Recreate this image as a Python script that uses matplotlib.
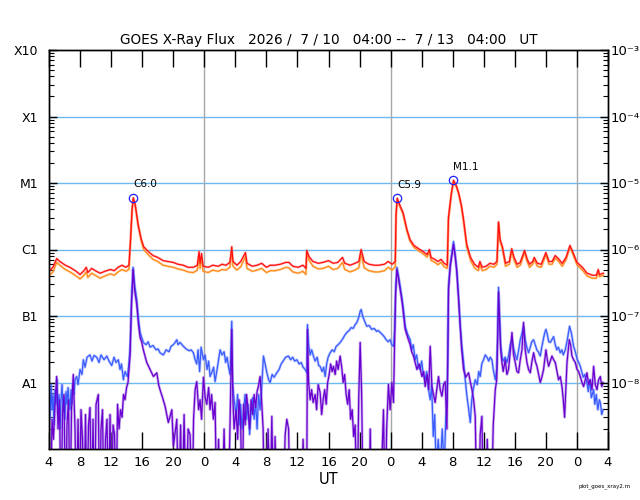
import numpy as np
import matplotlib
matplotlib.use("Agg")
import matplotlib.pyplot as plt
from matplotlib.ticker import FixedLocator, NullFormatter

plt.rcParams['font.family'] = ['DejaVu Sans']

# ---------------- data (hours since 2026/7/10 04:00 UT, flux W/m^2) ----------------
title = "GOES X-Ray Flux   2026 /  7 / 10   04:00 --  7 / 13   04:00   UT"
start_hour = 4
span_hours = 72
day_boundaries = [20, 44, 68]
class_labels = ["A1", "B1", "C1", "M1", "X1", "X10"]
class_levels = [1e-8, 1e-7, 1e-6, 1e-5, 1e-4, 1e-3]
right_labels = ["10⁻⁸", "10⁻⁷", "10⁻⁶", "10⁻⁵", "10⁻⁴", "10⁻³"]
flare_labels = ["C6.0", "C5.9", "M1.1"]
flare_hours = [10.86, 44.85, 52.1]

red_hours = [0.0, 0.5, 1.0, 1.4, 2.1, 2.7, 3.5, 4.0, 4.5, 4.8,
             5.0, 5.5, 6.1, 6.6, 7.2, 7.9, 8.4, 8.9, 9.4, 9.9,
             10.3, 10.5, 10.7, 10.86, 11.1, 11.5, 11.9, 12.2, 12.8, 13.4,
             14.0, 14.7, 15.3, 16.0, 16.6, 17.3, 17.9, 18.6, 19.1, 19.33,
             19.46, 19.65, 19.85, 20.5, 21.1, 21.8, 22.3, 22.8, 23.3, 23.54,
             23.7, 24.2, 24.7, 25.3, 25.5, 26.2, 26.8, 27.4, 28.0, 28.5,
             29.1, 29.8, 30.5, 30.9, 31.4, 32.1, 32.7, 33.1, 33.2, 33.5,
             34.0, 34.7, 35.3, 36.0, 36.6, 37.2, 37.8, 38.1, 38.8, 39.4,
             39.9, 40.2, 40.6, 41.2, 41.9, 42.5, 43.2, 43.7, 44.2, 44.6,
             44.7, 44.85, 45.2, 45.6, 46.1, 46.5, 47.0, 47.6, 48.2, 48.7,
             49.0, 49.2, 49.7, 50.1, 50.5, 50.9, 51.3, 51.45, 51.8, 52.1,
             52.45, 52.75, 53.1, 53.4, 53.8, 54.3, 54.8, 55.3, 55.5, 55.8,
             56.3, 56.8, 57.3, 57.7, 57.9, 58.1, 58.4, 58.8, 59.3, 59.6,
             59.9, 60.3, 60.7, 61.25, 61.6, 61.9, 62.3, 62.5, 62.9, 63.4,
             64.0, 64.4, 64.8, 65.2, 65.6, 66.1, 66.6, 67.1, 67.5, 68.0,
             68.7, 69.3, 70.0, 70.5, 70.75, 70.9, 71.4]

red_flux = [4.7e-7, 5.4e-7, 7.3e-7, 6.6e-7, 5.8e-7, 5.4e-7, 4.7e-7, 4.2e-7, 4.8e-7, 5.4e-7,
            4.5e-7, 5.2e-7, 4.7e-7, 4.4e-7, 4.7e-7, 5.0e-7, 4.8e-7, 5.4e-7, 5.8e-7, 5.4e-7,
            5.8e-7, 1.41e-6, 4.0e-6, 6.0e-6, 4.75e-6, 2.3e-6, 1.41e-6, 1.1e-6, 9.3e-7, 8.1e-7,
            7.6e-7, 6.8e-7, 6.6e-7, 6.4e-7, 6.0e-7, 5.8e-7, 5.4e-7, 5.4e-7, 5.8e-7, 9.3e-7,
            6.2e-7, 8.7e-7, 5.6e-7, 5.4e-7, 5.8e-7, 5.6e-7, 6.0e-7, 5.8e-7, 6.4e-7, 1.1e-6,
            6.6e-7, 5.8e-7, 6.6e-7, 9.0e-7, 6.2e-7, 5.6e-7, 5.8e-7, 6.2e-7, 5.4e-7, 5.8e-7,
            5.8e-7, 6.0e-7, 6.4e-7, 6.4e-7, 5.6e-7, 5.4e-7, 5.8e-7, 5.2e-7, 9.7e-7, 7.8e-7,
            6.6e-7, 6.2e-7, 6.4e-7, 6.8e-7, 6.2e-7, 6.4e-7, 7.6e-7, 6.2e-7, 5.8e-7, 6.2e-7,
            6.6e-7, 1.0e-6, 6.6e-7, 6.0e-7, 5.8e-7, 5.8e-7, 6.0e-7, 6.6e-7, 6.0e-7, 6.6e-7,
            3.4e-6, 5.9e-6, 4.6e-6, 3.6e-6, 2.0e-6, 1.41e-6, 1.15e-6, 1.03e-6, 9.3e-7, 8.4e-7,
            1.0e-6, 7.6e-7, 7.1e-7, 6.6e-7, 7.1e-7, 6.2e-7, 5.8e-7, 3.0e-6, 6.7e-6, 1.1e-5,
            9.2e-6, 7.2e-6, 4.75e-6, 2.8e-6, 1.2e-6, 7.6e-7, 6.0e-7, 5.4e-7, 6.6e-7, 5.4e-7,
            5.6e-7, 6.2e-7, 6.0e-7, 6.6e-7, 2.6e-6, 1.41e-6, 1.1e-6, 6.2e-7, 6.6e-7, 1.03e-6,
            7.6e-7, 6.0e-7, 6.4e-7, 9.7e-7, 7.1e-7, 6.0e-7, 6.6e-7, 7.6e-7, 6.2e-7, 6.0e-7,
            9.0e-7, 6.6e-7, 6.6e-7, 8.1e-7, 7.3e-7, 6.2e-7, 7.6e-7, 1.15e-6, 9.0e-7, 6.4e-7,
            5.4e-7, 4.4e-7, 4.1e-7, 4.1e-7, 5.0e-7, 4.2e-7, 4.4e-7]

orange_flux = [4.0e-7, 4.6e-7, 6.4e-7, 5.8e-7, 5.0e-7, 4.6e-7, 4.0e-7, 3.6e-7, 4.1e-7, 4.6e-7,
               3.8e-7, 4.4e-7, 4.0e-7, 3.7e-7, 4.0e-7, 4.3e-7, 4.1e-7, 4.6e-7, 5.0e-7, 4.7e-7,
               5.0e-7, 1.3e-6, 3.8e-6, 5.8e-6, 4.6e-6, 2.2e-6, 1.3e-6, 1.0e-6, 8.3e-7, 7.1e-7,
               6.6e-7, 5.8e-7, 5.6e-7, 5.4e-7, 5.1e-7, 4.9e-7, 4.6e-7, 4.5e-7, 4.9e-7, 7.8e-7,
               5.2e-7, 7.4e-7, 4.7e-7, 4.5e-7, 4.9e-7, 4.7e-7, 5.0e-7, 4.9e-7, 5.4e-7, 9.5e-7,
               5.6e-7, 4.9e-7, 5.5e-7, 7.8e-7, 5.2e-7, 4.7e-7, 4.9e-7, 5.2e-7, 4.5e-7, 4.8e-7,
               4.8e-7, 5.0e-7, 5.4e-7, 5.3e-7, 4.6e-7, 4.4e-7, 4.7e-7, 4.2e-7, 8.8e-7, 6.9e-7,
               5.6e-7, 5.1e-7, 5.2e-7, 5.6e-7, 5.0e-7, 5.2e-7, 6.4e-7, 5.0e-7, 4.6e-7, 4.9e-7,
               5.3e-7, 8.6e-7, 5.3e-7, 4.8e-7, 4.6e-7, 4.6e-7, 4.8e-7, 5.4e-7, 4.9e-7, 5.5e-7,
               3.1e-6, 5.6e-6, 4.4e-6, 3.4e-6, 1.9e-6, 1.33e-6, 1.08e-6, 9.6e-7, 8.6e-7, 7.7e-7,
               9.2e-7, 6.9e-7, 6.4e-7, 5.9e-7, 6.4e-7, 5.5e-7, 5.2e-7, 2.8e-6, 6.4e-6, 1.05e-5,
               8.9e-6, 6.9e-6, 4.5e-6, 2.6e-6, 1.1e-6, 6.8e-7, 5.3e-7, 4.8e-7, 5.9e-7, 4.8e-7,
               5.0e-7, 5.6e-7, 5.4e-7, 6.0e-7, 2.5e-6, 1.33e-6, 1.02e-6, 5.6e-7, 6.0e-7, 9.5e-7,
               6.9e-7, 5.4e-7, 5.8e-7, 9.0e-7, 6.5e-7, 5.4e-7, 6.0e-7, 7.0e-7, 5.6e-7, 5.4e-7,
               8.3e-7, 6.0e-7, 6.0e-7, 7.4e-7, 6.7e-7, 5.6e-7, 7.0e-7, 1.08e-6, 8.4e-7, 5.9e-7,
               4.9e-7, 4.0e-7, 3.7e-7, 3.7e-7, 4.6e-7, 3.9e-7, 4.1e-7]

blue_series = [
    (0.00, 5.5e-9), (0.13, 2.8e-9), (0.26, 9.3e-9), (0.39, 3.9e-9), (0.52, 6.6e-9),
    (0.64, 2.3e-9), (0.77, 7.8e-9), (0.90, 4.7e-9), (1.03, 1.1e-8), (1.16, 3.3e-9),
    (1.29, 6.6e-9), (1.42, 2.0e-9), (1.55, 5.5e-9), (1.68, 9.3e-9), (1.80, 3.7e-9),
    (1.93, 5.9e-9), (2.06, 2.8e-9), (2.19, 7.3e-9), (2.32, 4.7e-9), (2.45, 8.4e-9),
    (2.58, 5.5e-9), (2.71, 3.9e-9), (2.84, 7.8e-9), (2.96, 4.7e-9), (3.09, 9.3e-9),
    (3.22, 6.6e-9), (3.35, 1.1e-8), (3.57, 1.23e-8), (3.74, 9.3e-9), (4.00, 1.57e-8),
    (4.25, 1.32e-8), (4.42, 2.2e-8), (4.64, 1.7e-8), (4.90, 2.4e-8), (5.28, 2.6e-8),
    (5.54, 2.1e-8), (5.80, 2.55e-8), (6.15, 2.4e-8), (6.44, 2.0e-8), (6.70, 2.6e-8),
    (7.09, 2.2e-8), (7.44, 2.5e-8), (7.73, 2.1e-8), (8.08, 1.8e-8), (8.38, 2.4e-8),
    (8.63, 2.0e-8), (8.93, 2.2e-8), (9.15, 1.57e-8), (9.34, 1.9e-8), (9.58, 1.1e-8),
    (9.79, 1.46e-8), (10.09, 1.23e-8), (10.25, 1.7e-8), (10.44, 3.1e-8), (10.63, 1.77e-7),
    (10.83, 5.4e-7), (11.02, 3.0e-7), (11.30, 1.77e-7), (11.53, 8.9e-8), (11.73, 5.65e-8),
    (11.95, 4.75e-8), (12.15, 4.0e-8), (12.50, 3.7e-8), (12.76, 4.1e-8), (13.02, 3.4e-8),
    (13.40, 3.6e-8), (13.79, 3.1e-8), (14.05, 3.2e-8), (14.30, 2.8e-8), (14.73, 2.6e-8),
    (15.08, 3.1e-8), (15.46, 2.9e-8), (15.72, 3.5e-8), (16.02, 3.7e-8), (16.24, 4.0e-8),
    (16.46, 4.4e-8), (16.62, 3.7e-8), (16.88, 4.0e-8), (17.31, 3.5e-8), (17.66, 3.2e-8),
    (18.04, 3.0e-8), (18.30, 3.1e-8), (18.60, 2.8e-8), (18.82, 2.2e-8), (19.03, 1.9e-8),
    (19.20, 3.1e-8), (19.40, 1.46e-8), (19.59, 3.4e-8), (19.89, 2.2e-8), (20.10, 2.6e-8),
    (20.36, 1.57e-8), (20.56, 2.1e-8), (20.75, 1.23e-8), (21.01, 1.46e-8), (21.20, 1.7e-8),
    (21.39, 1.03e-8), (21.65, 1.57e-8), (21.84, 2.2e-8), (22.04, 3.1e-8), (22.29, 2.6e-8),
    (22.55, 2.9e-8), (22.75, 2.0e-8), (22.94, 2.4e-8), (23.13, 1.7e-8), (23.33, 1.32e-8),
    (23.54, 8.3e-8), (23.65, 9.3e-9), (23.84, 5.5e-9), (24.10, 3.3e-9), (24.29, 6.6e-9),
    (24.48, 2.3e-9), (24.68, 4.7e-9), (24.87, 2.0e-9), (25.07, 3.9e-9), (25.26, 6.6e-9),
    (25.45, 2.8e-9), (25.64, 4.7e-9), (25.84, 1.65e-9), (26.03, 3.9e-9), (26.23, 5.9e-9),
    (26.42, 2.8e-9), (26.61, 5.2e-9), (26.80, 2.0e-9), (27.00, 6.6e-9), (27.19, 3.9e-9),
    (27.38, 7.8e-9), (27.62, 2.5e-8), (27.84, 1.9e-8), (28.06, 1.4e-8), (28.29, 1.1e-8),
    (28.48, 1.0e-8), (28.74, 1.32e-8), (29.00, 1.2e-8), (29.34, 1.4e-8), (29.64, 1.57e-8),
    (29.90, 1.9e-8), (30.16, 2.1e-8), (30.48, 2.4e-8), (30.84, 2.5e-8), (31.12, 2.2e-8),
    (31.38, 2.4e-8), (31.64, 2.1e-8), (31.92, 2.2e-8), (32.22, 1.9e-8), (32.48, 2.0e-8),
    (32.73, 1.7e-8), (32.99, 1.57e-8), (33.21, 1.4e-8), (33.29, 7.4e-8), (33.44, 3.7e-8),
    (33.64, 2.6e-8), (33.83, 3.1e-8), (34.06, 2.5e-8), (34.28, 2.1e-8), (34.54, 2.4e-8),
    (34.73, 1.8e-8), (34.92, 1.75e-8), (35.18, 1.46e-8), (35.38, 1.7e-8), (35.57, 1.23e-8),
    (35.76, 1.9e-8), (35.95, 2.4e-8), (36.21, 2.8e-8), (36.47, 3.1e-8), (36.73, 2.9e-8),
    (36.99, 3.5e-8), (37.24, 3.7e-8), (37.50, 4.0e-8), (37.76, 4.4e-8), (38.08, 5.1e-8),
    (38.36, 5.65e-8), (38.66, 6.05e-8), (38.92, 6.7e-8), (39.18, 6.5e-8), (39.43, 7.4e-8),
    (39.65, 8.0e-8), (39.89, 9.5e-8), (40.08, 1.17e-7), (40.21, 1.25e-7), (40.40, 1.0e-7),
    (40.66, 8.3e-8), (40.94, 7.0e-8), (41.24, 7.2e-8), (41.56, 6.3e-8), (41.88, 6.5e-8),
    (42.20, 5.85e-8), (42.40, 6.05e-8), (42.66, 5.65e-8), (42.91, 5.3e-8), (43.17, 4.9e-8),
    (43.43, 4.4e-8), (43.69, 4.1e-8), (43.94, 4.4e-8), (44.16, 3.7e-8), (44.37, 3.5e-8),
    (44.52, 6.3e-8), (44.65, 2.5e-7), (44.81, 5.4e-7), (44.98, 4.2e-7), (45.23, 2.8e-7),
    (45.49, 1.77e-7), (45.68, 1.17e-7), (45.88, 7.0e-8), (46.20, 5.3e-8), (46.52, 4.4e-8),
    (46.72, 3.1e-8), (46.91, 3.7e-8), (47.17, 2.2e-8), (47.36, 2.6e-8), (47.55, 1.7e-8),
    (47.81, 1.57e-8), (48.00, 2.1e-8), (48.20, 1.32e-8), (48.45, 1.1e-8), (48.65, 1.46e-8),
    (48.84, 8.4e-9), (49.10, 5.5e-9), (49.29, 9.3e-9), (49.49, 1.54e-9), (49.68, 3.3e-9),
    (49.87, 5e-10), (50.13, 1.4e-9), (50.39, 5e-10), (50.65, 2.0e-9), (50.90, 5e-10),
    (51.10, 2.8e-9), (51.25, 5.0e-9), (51.35, 2.2e-8), (51.46, 2.8e-7), (51.68, 6.0e-7),
    (51.87, 8.4e-7), (52.10, 1.32e-6), (52.32, 8.4e-7), (52.52, 5.0e-7), (52.75, 2.0e-7),
    (52.97, 7.4e-8), (53.16, 3.7e-8), (53.40, 2.0e-8), (53.61, 1.1e-8), (53.83, 6.2e-9),
    (54.06, 3.9e-9), (54.26, 2.5e-9), (54.45, 5.5e-9), (54.64, 7.8e-9), (54.90, 1.1e-8),
    (55.16, 9.3e-9), (55.35, 1.46e-8), (55.54, 1.23e-8), (55.74, 1.9e-8), (55.97, 2.2e-8),
    (56.19, 2.6e-8), (56.41, 2.4e-8), (56.64, 2.1e-8), (56.83, 2.4e-8), (57.05, 2.2e-8),
    (57.22, 1.57e-8), (57.48, 1.1e-8), (57.67, 1.57e-8), (57.80, 6.3e-8), (57.90, 2.7e-7),
    (58.05, 8.9e-8), (58.18, 3.7e-8), (58.34, 2.5e-8), (58.50, 2.1e-8), (58.76, 2.4e-8),
    (58.98, 2.0e-8), (59.21, 2.6e-8), (59.41, 3.7e-8), (59.63, 4.4e-8), (59.80, 3.4e-8),
    (60.05, 2.6e-8), (60.27, 2.2e-8), (60.50, 3.1e-8), (60.70, 4.4e-8), (60.89, 5.3e-8),
    (61.12, 7.0e-8), (61.34, 4.4e-8), (61.54, 3.4e-8), (61.77, 2.8e-8), (61.99, 3.4e-8),
    (62.18, 4.1e-8), (62.42, 4.4e-8), (62.63, 3.7e-8), (62.83, 3.1e-8), (63.02, 2.9e-8),
    (63.28, 2.5e-8), (63.47, 3.4e-8), (63.66, 4.4e-8), (63.86, 5.65e-8), (64.01, 6.3e-8),
    (64.18, 5.3e-8), (64.37, 4.1e-8), (64.57, 4.0e-8), (64.76, 4.4e-8), (64.99, 4.9e-8),
    (65.21, 3.7e-8), (65.40, 3.1e-8), (65.60, 3.4e-8), (65.85, 2.8e-8), (66.05, 3.1e-8),
    (66.24, 2.6e-8), (66.50, 3.1e-8), (66.76, 4.4e-8), (67.05, 7.0e-8), (67.27, 5.65e-8),
    (67.57, 3.5e-8), (67.79, 2.9e-8), (68.04, 2.2e-8), (68.24, 2.0e-8), (68.43, 1.75e-8),
    (68.62, 1.46e-8), (68.82, 1.2e-8), (69.01, 1.32e-8), (69.29, 1.0e-8), (69.46, 7.3e-9),
    (69.66, 1.1e-8), (69.85, 5.9e-9), (70.15, 7.8e-9), (70.30, 4.7e-9), (70.49, 6.6e-9),
    (70.69, 3.9e-9), (70.88, 5.5e-9), (71.01, 5.0e-9), (71.20, 3.3e-9), (71.36, 3.9e-9),
]

purple_series = [
    (0.00, 3.9e-9), (0.19, 1e-10), (0.39, 2.8e-9), (0.58, 1.4e-9), (0.77, 4.7e-9),
    (0.99, 1.23e-8), (1.16, 2.0e-9), (1.35, 5.5e-9), (1.55, 1e-10), (1.74, 3.3e-9),
    (1.93, 6.6e-9), (2.13, 1e-10), (2.32, 2.3e-9), (2.51, 5.5e-9), (2.71, 1e-10),
    (2.90, 3.9e-9), (3.13, 1.32e-8), (3.35, 2.0e-9), (3.54, 1e-10), (3.74, 2.8e-9),
    (3.93, 1e-10), (4.12, 3.9e-9), (4.32, 1.4e-9), (4.51, 1e-10), (4.70, 3.3e-9),
    (4.90, 1e-10), (5.09, 2.3e-9), (5.28, 4.2e-9), (5.48, 1e-10), (5.67, 2.8e-9),
    (5.86, 1e-10), (6.06, 4.7e-9), (6.35, 6.6e-9), (6.51, 1e-10), (6.70, 2.0e-9),
    (6.89, 3.9e-9), (7.09, 1e-10), (7.28, 1.4e-9), (7.47, 2.8e-9), (7.67, 1e-10),
    (7.86, 3.3e-9), (8.05, 1e-10), (8.25, 2.3e-9), (8.44, 1.65e-9), (8.63, 1e-10),
    (8.83, 4.7e-9), (9.02, 2.0e-9), (9.21, 3.9e-9), (9.41, 3.0e-9), (9.60, 6.6e-9),
    (9.79, 5.5e-9), (9.99, 8.4e-9), (10.18, 1.0e-8), (10.44, 2.6e-8), (10.63, 1.5e-7),
    (10.83, 5.0e-7), (11.02, 2.5e-7), (11.30, 1.5e-7), (11.53, 7.4e-8), (11.73, 4.75e-8),
    (11.95, 4.0e-8), (12.15, 3.1e-8), (12.59, 2.0e-8), (13.02, 1.57e-8), (13.45, 1.23e-8),
    (13.89, 1.4e-8), (14.12, 9.3e-9), (14.30, 7.8e-9), (14.63, 5.9e-9), (14.95, 4.4e-9),
    (15.37, 2.5e-9), (15.82, 3.9e-9), (16.02, 1.1e-9), (16.46, 2.8e-9), (16.69, 1e-10),
    (16.95, 2.3e-9), (17.14, 1e-10), (17.40, 3.3e-9), (17.66, 1e-10), (17.91, 2.0e-9),
    (18.17, 1.65e-9), (18.43, 1e-10), (18.62, 2.8e-9), (18.82, 7.8e-9), (19.03, 1.03e-8),
    (19.27, 3.9e-9), (19.46, 5.5e-9), (19.65, 2.8e-9), (19.89, 1.2e-8), (20.10, 6.2e-9),
    (20.32, 4.7e-9), (20.56, 8.4e-9), (20.75, 3.9e-9), (20.94, 6.6e-9), (21.17, 2.8e-9),
    (21.39, 5.0e-9), (21.61, 1e-10), (21.84, 1.4e-9), (22.04, 1e-10), (22.29, 1e-10),
    (22.55, 2.0e-9), (22.81, 1e-10), (23.07, 1e-10), (23.33, 2.8e-9), (23.54, 6.3e-8),
    (23.69, 5.5e-9), (23.84, 2.0e-9), (24.10, 3.9e-9), (24.29, 1.4e-9), (24.48, 5.5e-9),
    (24.68, 2.8e-9), (24.87, 1e-10), (25.07, 4.7e-9), (25.26, 2.3e-9), (25.45, 6.6e-9),
    (25.64, 3.9e-9), (25.84, 2.0e-9), (26.03, 5.5e-9), (26.23, 3.3e-9), (26.42, 6.6e-9),
    (26.61, 4.2e-9), (26.80, 7.3e-9), (26.97, 8.7e-9), (27.19, 1.23e-8), (27.38, 5.5e-9),
    (27.58, 2.0e-9), (27.77, 1e-10), (27.96, 1e-10), (28.22, 2.0e-9), (28.48, 1e-10),
    (28.70, 3.1e-9), (28.93, 1e-10), (29.12, 1.54e-9), (29.38, 1e-10), (29.77, 1e-10),
    (30.16, 1e-10), (30.42, 1.65e-9), (30.63, 2.8e-9), (30.86, 2.0e-9), (31.06, 1e-10),
    (31.44, 1e-10), (31.83, 1e-10), (32.22, 1e-10), (32.48, 1e-10), (32.73, 1.4e-9),
    (32.99, 1e-10), (33.18, 1e-10), (33.29, 6.3e-8), (33.44, 1.0e-8), (33.64, 5.5e-9),
    (33.83, 7.8e-9), (34.02, 5.0e-9), (34.28, 6.6e-9), (34.47, 3.9e-9), (34.67, 9.3e-9),
    (34.92, 7.1e-9), (35.12, 3.3e-9), (35.31, 5.5e-9), (35.51, 7.8e-9), (35.70, 4.7e-9),
    (35.89, 1.0e-8), (36.09, 1.32e-8), (36.28, 1.9e-8), (36.47, 1.46e-8), (36.64, 1.75e-8),
    (36.86, 1.32e-8), (37.05, 2.1e-8), (37.24, 1.57e-8), (37.50, 2.5e-8), (37.70, 1.7e-8),
    (37.89, 1.0e-8), (38.08, 1.32e-8), (38.27, 6.6e-9), (38.47, 4.7e-9), (38.66, 7.8e-9),
    (38.85, 2.8e-9), (39.05, 3.9e-9), (39.24, 1.54e-9), (39.43, 2.3e-9), (39.69, 1e-10),
    (39.89, 5.5e-9), (40.08, 4.0e-8), (40.27, 6.6e-9), (40.47, 1e-10), (40.72, 1e-10),
    (40.98, 1e-10), (41.24, 1e-10), (41.37, 2.0e-9), (41.56, 1e-10), (41.88, 1e-10),
    (42.27, 1e-10), (42.66, 1e-10), (43.08, 3.9e-9), (43.30, 1e-10), (43.49, 2.0e-9),
    (43.72, 9.3e-9), (43.94, 3.9e-9), (44.16, 1.0e-8), (44.37, 5.0e-9), (44.52, 4.4e-8),
    (44.65, 2.25e-7), (44.81, 5.0e-7), (44.98, 3.9e-7), (45.23, 2.5e-7), (45.49, 1.6e-7),
    (45.68, 1.0e-7), (45.88, 6.3e-8), (46.20, 4.75e-8), (46.52, 3.7e-8), (46.72, 2.9e-8),
    (46.95, 2.5e-8), (47.39, 1.57e-8), (47.68, 1.9e-8), (48.03, 1.23e-8), (48.26, 1.46e-8),
    (48.45, 8.7e-9), (48.71, 1.32e-8), (48.91, 7.8e-9), (49.10, 3.5e-8), (49.32, 8.7e-9),
    (49.53, 6.6e-9), (49.74, 5.0e-9), (49.94, 7.8e-9), (50.17, 1.23e-8), (50.39, 7.8e-9),
    (50.61, 6.2e-9), (50.82, 9.3e-9), (51.03, 1.03e-8), (51.25, 2.0e-9), (51.35, 1.57e-8),
    (51.46, 2.5e-7), (51.68, 5.5e-7), (51.87, 7.8e-7), (52.10, 1.2e-6), (52.32, 7.8e-7),
    (52.52, 4.7e-7), (52.75, 1.8e-7), (52.97, 6.7e-8), (53.16, 3.1e-8), (53.40, 1.57e-8),
    (53.68, 1.2e-8), (54.04, 1.4e-8), (54.26, 1.03e-8), (54.48, 7.8e-9), (54.69, 5.5e-9),
    (54.90, 3.1e-9), (55.12, 1e-10), (55.35, 1e-10), (55.54, 1.65e-9), (55.76, 3.1e-9),
    (55.97, 1e-10), (56.19, 1e-10), (56.45, 1.4e-9), (56.71, 1e-10), (56.96, 1e-10),
    (57.22, 2.3e-9), (57.48, 7.8e-9), (57.67, 1.1e-8), (57.80, 5.3e-8), (57.90, 2.3e-7),
    (58.05, 7.4e-8), (58.18, 3.1e-8), (58.34, 2.0e-8), (58.50, 1.46e-8), (58.76, 2.2e-8),
    (58.98, 1.32e-8), (59.19, 1.57e-8), (59.41, 2.9e-8), (59.63, 5.65e-8), (59.84, 2.6e-8),
    (60.05, 2.0e-8), (60.27, 1.46e-8), (60.48, 1.4e-8), (60.70, 2.2e-8), (60.92, 3.1e-8),
    (61.12, 8.0e-8), (61.34, 3.1e-8), (61.56, 2.0e-8), (61.77, 1.57e-8), (61.99, 1.4e-8),
    (62.21, 2.1e-8), (62.42, 2.8e-8), (62.63, 2.1e-8), (62.85, 1.75e-8), (63.06, 1.32e-8),
    (63.28, 1.0e-8), (63.50, 1.23e-8), (63.70, 1.57e-8), (64.01, 3.1e-8), (64.18, 2.2e-8),
    (64.35, 1.75e-8), (64.57, 2.1e-8), (64.78, 2.5e-8), (64.99, 2.2e-8), (65.21, 2.0e-8),
    (65.43, 1.46e-8), (65.63, 1.1e-8), (65.85, 1.23e-8), (66.07, 8.7e-9), (66.24, 5.5e-9),
    (66.41, 3.0e-9), (66.56, 7.8e-9), (66.72, 2.0e-8), (67.01, 4.4e-8), (67.18, 3.7e-8),
    (67.36, 2.5e-8), (67.57, 2.2e-8), (67.79, 2.0e-8), (68.01, 1.57e-8), (68.22, 1.46e-8),
    (68.43, 1.23e-8), (68.65, 1.0e-8), (68.86, 8.7e-9), (69.07, 1.1e-8), (69.29, 1.4e-8),
    (69.50, 9.3e-9), (69.72, 1.1e-8), (69.94, 7.8e-9), (70.15, 1.75e-8), (70.36, 9.3e-9),
    (70.58, 7.8e-9), (70.79, 1.1e-8), (71.01, 1.23e-8), (71.20, 8.7e-9), (71.36, 1.0e-8),
]

# ---------------- figure ----------------
fig = plt.figure(figsize=(6.4, 5.0), dpi=100)
ax = fig.add_axes([49/640, 1-449/500, (608-49)/640, (449-50)/500])

ax.set_yscale('log')
ax.set_xlim(0, span_hours)
ax.set_ylim(1e-9, 1e-3)

grid_color = '#6cb8f0'
for lev in class_levels[:-1]:
    ax.axhline(lev, color=grid_color, lw=1.0, zorder=1)
for d in day_boundaries:
    ax.axvline(d, color='#a8a8a8', lw=1.0, zorder=1)

bh, bf = zip(*blue_series)
ph, pf = zip(*purple_series)
# soft halo under each line, as in the reference rendering
ax.plot(bh, bf, color='#8fa2ff', lw=2.0, alpha=0.55, zorder=2)
ax.plot(ph, pf, color='#a070e0', lw=2.0, alpha=0.55, zorder=2)
ax.plot(bh, bf, color='#3a5cff', lw=0.9, zorder=3)
ax.plot(ph, pf, color='#6a00d0', lw=0.9, zorder=3)
ax.plot(red_hours, orange_flux, color='#ffb060', lw=1.8, alpha=0.5, zorder=4)
ax.plot(red_hours, orange_flux, color='#ff8c1a', lw=0.9, zorder=4)
ax.plot(red_hours, red_flux, color='#ff7070', lw=1.8, alpha=0.45, zorder=5)
ax.plot(red_hours, red_flux, color='#ff1010', lw=0.9, zorder=5)

# flare peak markers / labels
log_red = np.log10(red_flux)
for lab, fh in zip(flare_labels, flare_hours):
    fv = 10 ** np.interp(fh, red_hours, log_red)
    ax.plot([fh], [fv], marker='o', ms=6, mfc='none', mec='#2020ff', mew=0.9, zorder=6)
    ax.annotate(lab, (fh, fv), xytext=(0, 6), textcoords='offset points',
                ha='left', va='bottom', fontsize=7.5, color='black', zorder=7)

# x axis ticks
xt = np.arange(0, span_hours + 1, 4)
ax.set_xticks(xt)
ax.set_xticklabels([str((start_hour + int(t)) % 24) for t in xt])
ax.tick_params(axis='x', which='major', direction='in', length=12, width=1,
               top=True, bottom=True, labelsize=9.5, pad=5)
ax.set_xlabel('UT', fontsize=10.5, labelpad=2)

# left y axis
ax.yaxis.set_major_locator(FixedLocator(class_levels))
ax.set_yticklabels(class_labels)
minor = [m * 10.0 ** e for e in range(-9, -3) for m in range(2, 10)]
ax.yaxis.set_minor_locator(FixedLocator(minor))
ax.yaxis.set_minor_formatter(NullFormatter())
ax.tick_params(axis='y', which='major', direction='in', length=6, width=1,
               left=True, right=False, labelsize=9, pad=8)
ax.tick_params(axis='y', which='minor', direction='in', length=3.5, width=0.8,
               left=True, right=False)

# right y axis
ax2 = ax.twinx()
ax2.set_yscale('log')
ax2.set_ylim(1e-9, 1e-3)
ax2.yaxis.set_major_locator(FixedLocator(class_levels))
ax2.set_yticklabels(right_labels)
ax2.yaxis.set_minor_locator(FixedLocator(minor))
ax2.yaxis.set_minor_formatter(NullFormatter())
ax2.tick_params(axis='y', which='major', direction='in', length=6, width=1,
                labelsize=9.5, pad=1.5)
ax2.tick_params(axis='y', which='minor', direction='in', length=3.5, width=0.8)

for a in (ax, ax2):
    for s in a.spines.values():
        s.set_linewidth(1.0)

ax.set_title(title, fontsize=9.8, pad=4)
fig.text(0.985, 0.028, 'plot_goes_xray2.m', ha='right', va='center', fontsize=4)

fig.savefig('out.png', dpi=100)
